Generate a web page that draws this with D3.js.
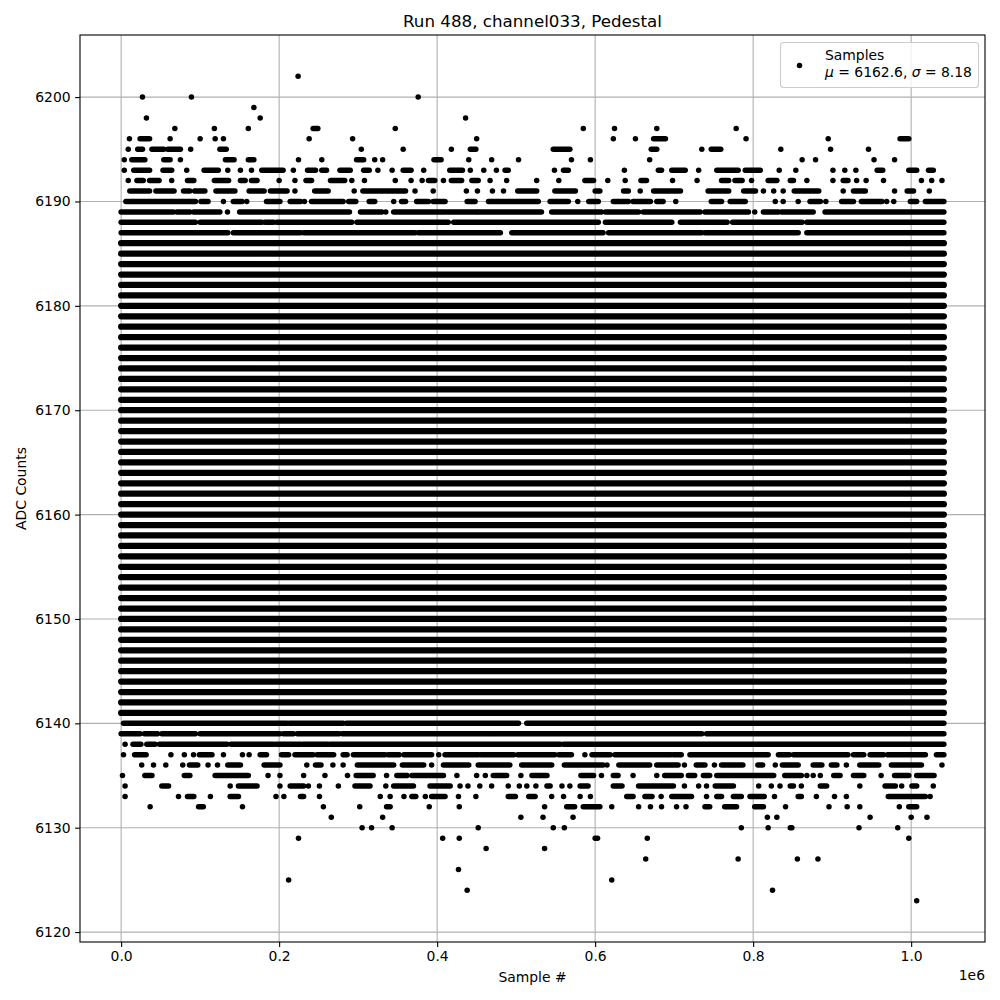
<!DOCTYPE html>
<html>
<head>
<meta charset="utf-8">
<script src="https://cdn.jsdelivr.net/npm/d3@7"></script>
<style>
  body { margin: 0; background: #fff; }
  svg { font-family: "DejaVu Sans", sans-serif; }
</style>
</head>
<body>
<div id="chart"></div>
<script>
//////////////////////////// data ////////////////////////////
// sample positions are in thousands of samples (k)
var nSamplesK = 1041.4;
var xTicks = [0, 0.2e6, 0.4e6, 0.6e6, 0.8e6, 1.0e6];
var yTicks = [6120, 6130, 6140, 6150, 6160, 6170, 6180, 6190, 6200];

// ADC levels that are hit all along the run
var solidLevels = [6141, 6142, 6143, 6144, 6145, 6146, 6147, 6148, 6149, 6150,
  6151, 6152, 6153, 6154, 6155, 6156, 6157, 6158, 6159, 6160,
  6161, 6162, 6163, 6164, 6165, 6166, 6167, 6168, 6169, 6170,
  6171, 6172, 6173, 6174, 6175, 6176, 6177, 6178, 6179, 6180,
  6181, 6182, 6183, 6184, 6185, 6186];

// upper levels: single samples (number) or runs of samples [start, end]
var rowsHigh = [
  [6202, [224]],
  [6200, [27, 89, 376]],
  [6199, [168]],
  [6198, [32, 176, 436]],
  [6197, [68, 118, 161, [243, 249], 347, 585, 624.5, 678, 778.5]],
  [6196, [10.5, [24, 36], 62, 100, 119, 129.5, 238, 293, 450, 623, 651, [674, 689], 791, 895, [986, 997]]],
  [6195, [9, [21, 27], [39, 54], [59, 75], 88, [125, 133], 304, 357, 418, [442, 449], [547, 568], [671, 678], 735, [747, 759], 835, 898, 946]],
  [6194, [4, [13.5, 30], [54, 62], 75, [132, 143], [161, 168], 224.5, 254, [298, 307], 321, 331, [396, 405], 440, 469, 503, 570, 594, 669, 862, 879, 953, 979]],
  [6193, [4, [16, 36], [53, 64], 83, [105, 123], 135, 151, 165, [178, 205], 218, [236, 246], [254, 260], [277, 290], [307, 314], 325, 343, [357, 367], 383, [416, 432], 442, 459, 475, [486, 490], 548.5, [560, 566], 637, [680, 684], [697, 714], 731, [754, 781], [790, 809], 833, 854, 901, 916, 930, [957, 964], [997, 1007], [1022, 1028]]],
  [6192, [9, [20, 28], [36, 48], 64, [84, 92], [118, 136], [151, 157], [165, 172], 200, 220, [234, 241], [265, 283], 292, 308, 347, 367, 381, [389, 397], 408, [418, 431], [444, 452], 467, 488, 526, 554, [587, 598], 616, 638, [658, 665], 698, 729, [760, 769], [777, 786], 798, [819, 830], [847, 851], 868, 901, [914, 920], 931, 943, 965, 1013, 1026, 1039]],
  [6191, [[11, 36], [44, 67], [79, 87], [93, 106], [120, 144], [162, 181], [189, 210], 220, [245, 262], 295, [306, 360], 372, 395, 437, 451, 470, 484, [502, 526], [549, 575], [600, 606], [636, 642], 657, [674, 708], [743, 769], [788, 803], 813, 826, 838, [852, 883], 914, [927, 942], 979, [995, 1003], 1023]],
  [6190, [[6, 94], [101, 110], 129.5, [142, 153], 159, [184, 201], [214, 227], 232, [241, 281], [288, 297], [314, 321], 345, [355, 360], [374, 389], [395, 410], [438, 448], [465, 528], [543, 566], 578, [592, 604], [623, 642], [648, 670], [678, 686], 702, [747, 760], [771, 790], 828, 838, 857, [872, 885], 892, [912, 927], [937, 963], 969, 978, [999, 1007], [1018, 1041.4]]],
  [6189, [[0, 66], [70.5, 87], [91.6, 125], 134.6, [150, 289], [303, 330], 335, [345, 410], [413, 450], [452, 532], [545, 608], [613, 655], [661, 733], [739, 794], 802, [813, 832], [836, 876], [891, 1041.4]]],
  [6188, [[0, 94], [100, 178], [182, 193], [197, 292], [298.5, 414], [421, 604], [613, 697], [708, 767], [774, 862], [868, 1041.4]]],
  [6187, [[0, 135], [142, 227], [231, 372], [376, 480], [494.5, 610], [617, 735], [739, 857], [868, 1041.4]]]
];

// lower levels
var rowsLow = [
  [6140, [[3, 210], [213, 281], [285, 503], [513.5, 1041.4]]],
  [6139, [[0, 24], [29.5, 46], [51.5, 94], [100, 201], [205.5, 218], [223, 276], [280, 467], [469, 735], [741, 1041.4]]],
  [6138, [5, [15, 25], [32.5, 43], [48.5, 134], [139, 193], [196, 227], [230, 262], [265, 556], [560, 598], [601, 1041.4]]],
  [6137, [3, [17, 31.6], 63, 80, 91.6, [99, 115], 129.5, 153.6, 162, [176, 184], [203, 212], [220, 243], [248, 269], [281, 286], [294, 334], [338, 352], [358, 393], 402, [410, 452], [455, 497], [502, 549], [554, 570], 587, [596, 619], [625, 696], [699, 709], [720, 819], [832, 846], [851, 920], [927, 940], [948, 965], [970, 1018], [1032, 1041.4]]],
  [6136, [26, 41, 56.5, 78, [86.5, 97], 110, 122, [135, 151], [181, 201], 235, [246, 253], 268, 281, [299, 345], [356, 383], 393, [408, 440], [452, 492], [507, 545], [561, 610], 615, [630, 669], [678, 705], 713, [728, 739], 751, [760, 787], [806, 812], 828, [837, 857], [876, 887], [899, 906], 918, [935, 959], [975, 1013], 1039]],
  [6135, [1.7, [30, 39], [80, 87], [119, 161], 186, 201, 231, 258, 286.5, [297.5, 319], 336, [349, 362], [368, 408], 425, 450, 461, [471, 488], 506, [520, 539], [582, 598], 608, [623, 629], 648, 678, [688, 709], [718, 726], [737, 745], [754, 826], [840, 861], 868, 876, 885, [902, 910], [927, 940], 962, [979, 997], [1007, 1029]]],
  [6134, [5, [51.5, 60], 138, [148.5, 172], 201, [214, 231], 237, 251, 275, [296, 315], 335, [345, 370], [391, 416.5], 429, 439, 454, 469, 490, 504, 513.5, 525, [539, 543], 558, 568, [581, 591], [623, 634], [655, 699], 713, 731, 741, [752, 775], 807, 823, 834, [847, 851], 861, [885, 893], 935, [967, 980], 988, [1001, 1007], 1028]],
  [6133, [5, 72.6, [84, 92], 113, [138, 148.5], 196, 206, [227, 231], 251, 328, 340.5, 358, [368, 373], 385, [393, 410], 427, 449, [490, 499], [516, 524], 545, 560, 581, 594, [640, 648], [663, 672], 683.5, [697, 722], 741, [754, 760], [775, 785], [796, 814], 827, [857, 861], 880, 903, 918, [971, 1018], 1024]],
  [6132, [36.7, [98, 104], 153.6, 256, 302, [336, 340.5], 390, 428, 536, [564, 574], [585, 606], 621, 655, 670, 684, 703, 715, [739, 745], [764, 779], [802, 813], 841, 896, 919, 935, 985, [997, 1007]]],
  [6131, [266, 331, 506, 534, 572, 818, 830, 948, 1000, 1020]],
  [6130, [305, 317, 343, 452, 547, 561, 785, 819, [847, 849], 934, 983]],
  [6129, [224.5, 407, 428, [600, 603], 666, 997]],
  [6128, [462, 536]],
  [6127, [664, 781, 856, 882]],
  [6126, [427]],
  [6125, [212, 621]],
  [6124, [438, 824.5]],
  [6123, [1007]]
];

var legendTitle = "Samples";
var legendStats = {mu: "6162.6", sigma: "8.18"};

//////////////////////////// layout ////////////////////////////
var W = 1000, H = 1000;
var plot = {left: 80, right: 985, top: 35, bottom: 942};
var dotR = 2.75;

var svg = d3.select("#chart").append("svg")
  .attr("width", W).attr("height", H);

var xMin = 0, xMax = nSamplesK * 1000;
var xPad = (xMax - xMin) * 0.05;
var x = d3.scaleLinear().domain([xMin - xPad, xMax + xPad]).range([plot.left, plot.right]);
var yMin = 6123, yMax = 6202;
var yPad = (yMax - yMin) * 0.05;
var y = d3.scaleLinear().domain([yMin - yPad, yMax + yPad]).range([plot.bottom, plot.top]);

//////////////////////////// grid ////////////////////////////
var grid = svg.append("g").attr("stroke", "#b0b0b0").attr("stroke-width", 1.1);
grid.selectAll("line.gx").data(xTicks).join("line")
  .attr("x1", d => x(d)).attr("x2", d => x(d))
  .attr("y1", plot.top).attr("y2", plot.bottom);
grid.selectAll("line.gy").data(yTicks).join("line")
  .attr("class", "gy")
  .attr("x1", plot.left).attr("x2", plot.right)
  .attr("y1", d => y(d)).attr("y2", d => y(d));

//////////////////////////// samples ////////////////////////////
var marks = svg.append("g").attr("fill", "#000").attr("stroke", "#000");

marks.selectAll("line.solid").data(solidLevels).join("line")
  .attr("class", "solid")
  .attr("x1", x(0)).attr("x2", x(xMax))
  .attr("y1", d => y(d)).attr("y2", d => y(d))
  .attr("stroke-width", 6.2).attr("stroke-linecap", "round");

function flatten(rows){
  var segs = [], pts = [];
  rows.forEach(function(r){
    r[1].forEach(function(it){
      if (Array.isArray(it)) segs.push({v: r[0], a: it[0], b: it[1]});
      else pts.push({v: r[0], a: it});
    });
  });
  return [segs, pts];
}

var [segs, pts] = flatten(rowsHigh.concat(rowsLow));

marks.selectAll("line.run").data(segs).join("line")
  .attr("class", "run")
  .attr("x1", d => x(d.a * 1000)).attr("x2", d => x(d.b * 1000))
  .attr("y1", d => y(d.v)).attr("y2", d => y(d.v))
  .attr("stroke-width", 5.5).attr("stroke-linecap", "round");

marks.selectAll("circle").data(pts).join("circle")
  .attr("cx", d => x(d.a * 1000)).attr("cy", d => y(d.v))
  .attr("r", dotR).attr("stroke", "none");

//////////////////////////// axes ////////////////////////////
var xAxis = d3.axisBottom(x).tickValues(xTicks)
  .tickFormat(d => (d / 1e6).toFixed(1)).tickSize(4.9).tickPadding(4.5);
var yAxis = d3.axisLeft(y).tickValues(yTicks)
  .tickFormat(d3.format("d")).tickSize(4.9).tickPadding(4.5);

var gx = svg.append("g").attr("transform", "translate(0," + plot.bottom + ")").call(xAxis);
var gy = svg.append("g").attr("transform", "translate(" + plot.left + ",0)").call(yAxis);
[gx, gy].forEach(function(g){
  g.select(".domain").remove();
  g.selectAll(".tick line").attr("stroke", "#000").attr("stroke-width", 1.1);
  g.selectAll(".tick text").attr("font-size", "13.9px").attr("fill", "#000")
    .attr("font-family", "DejaVu Sans");
});

svg.append("rect")
  .attr("x", plot.left).attr("y", plot.top)
  .attr("width", plot.right - plot.left).attr("height", plot.bottom - plot.top)
  .attr("fill", "none").attr("stroke", "#000").attr("stroke-width", 1.1);

// offset text for the x axis
svg.append("text").attr("x", plot.right).attr("y", 980)
  .attr("text-anchor", "end").attr("font-size", "13.9px").text("1e6");

svg.append("text").attr("x", (plot.left + plot.right) / 2).attr("y", 982)
  .attr("text-anchor", "middle").attr("font-size", "13.9px").text("Sample #");

svg.append("text")
  .attr("transform", "translate(26," + ((plot.top + plot.bottom) / 2) + ") rotate(-90)")
  .attr("text-anchor", "middle").attr("font-size", "13.9px").text("ADC Counts");

svg.append("text").attr("x", (plot.left + plot.right) / 2).attr("y", 27)
  .attr("text-anchor", "middle").attr("font-size", "16.7px").text("Run 488, channel033, Pedestal");

//////////////////////////// legend ////////////////////////////
var lg = svg.append("g");
lg.append("rect").attr("x", 780.5).attr("y", 42.5).attr("width", 198).attr("height", 45)
  .attr("rx", 3).attr("fill", "#fff").attr("fill-opacity", 0.8)
  .attr("stroke", "#cccccc").attr("stroke-width", 1.1);
lg.append("circle").attr("cx", 799.5).attr("cy", 65.5).attr("r", dotR).attr("fill", "#000");
lg.append("text").attr("x", 825).attr("y", 60).attr("font-size", "13.9px").text(legendTitle);
var t2 = lg.append("text").attr("x", 825).attr("y", 77).attr("font-size", "13.9px");
t2.append("tspan").attr("font-style", "italic").text("\u03bc");
t2.append("tspan").text(" = " + legendStats.mu + ", ");
t2.append("tspan").attr("font-style", "italic").text("\u03c3");
t2.append("tspan").text(" = " + legendStats.sigma);
</script>
</body>
</html>
